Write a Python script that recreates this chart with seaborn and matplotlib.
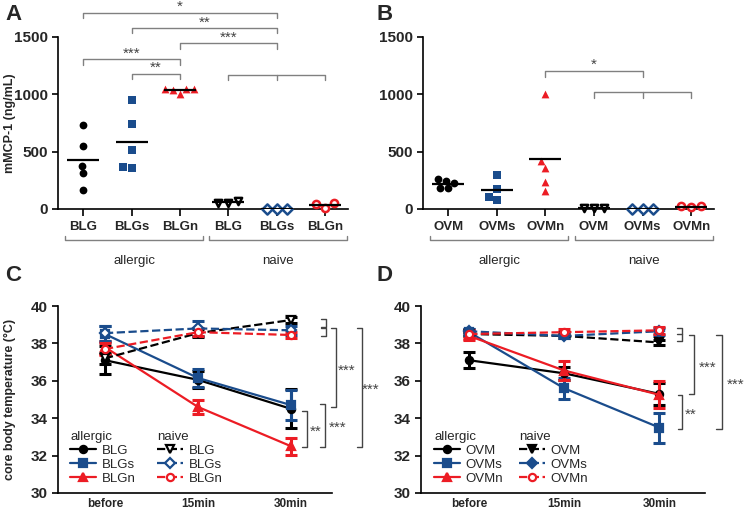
import matplotlib.pyplot as plt
import seaborn as sns
import numpy as np
from matplotlib.lines import Line2D

# ---- panel A: mMCP-1 (ng/mL), BLG groups
blg_labels = ['BLG', 'BLGs', 'BLGn', 'BLG', 'BLGs', 'BLGn']
a_blg = [732, 552, 378, 311, 166]
a_blgs = [950, 741, 514, 360, 369]
a_blgn = [1045, 1050, 1000, 1045, 1040]
n_blg = [70, 50, 55]
n_blgs = [4, 4, 4]
n_blgn = [50, 5, 45]

# ---- panel B: mMCP-1 (ng/mL), OVM groups
ovm_labels = ['OVM', 'OVMs', 'OVMn', 'OVM', 'OVMs', 'OVMn']
a_ovm = [224, 262, 180, 244, 180]
a_ovms = [296, 174, 78, 102]
a_ovmn = [1000, 419, 360, 238, 160]
n_ovm = [12, 12, 12]
n_ovms = [3, 3, 3]
n_ovmn = [22, 20, 22]

# ---- panels C/D: core body temperature, mean and SEM
times = ['before', '15min', '30min']
c_a_blg = [37.1, 36.05, 34.5]
c_a_blg_sem = [0.75, 0.45, 1.05]
c_a_blgs = [38.5, 36.15, 34.7]
c_a_blgs_sem = [0.45, 0.5, 0.8]
c_a_blgn = [37.8, 34.6, 32.5]
c_a_blgn_sem = [0.35, 0.35, 0.45]
c_n_blg = [37.2, 38.55, 39.25]
c_n_blg_sem = [0.3, 0.2, 0.15]
c_n_blgs = [38.55, 38.8, 38.7]
c_n_blgs_sem = [0.4, 0.4, 0.25]
c_n_blgn = [37.7, 38.6, 38.45]
c_n_blgn_sem = [0.3, 0.2, 0.15]

d_a_ovm = [37.1, 36.4, 35.3]
d_a_ovm_sem = [0.43, 0.35, 0.6]
d_a_ovms = [38.6, 35.6, 33.5]
d_a_ovms_sem = [0.15, 0.55, 0.8]
d_a_ovmn = [38.4, 36.55, 35.25]
d_a_ovmn_sem = [0.2, 0.5, 0.72]
d_n_ovm = [38.5, 38.4, 38.05]
d_n_ovm_sem = [0.1, 0.1, 0.15]
d_n_ovms = [38.65, 38.4, 38.65]
d_n_ovms_sem = [0.1, 0.1, 0.2]
d_n_ovmn = [38.5, 38.6, 38.7]
d_n_ovmn_sem = [0.2, 0.15, 0.2]

BLACK = '#000000'
BLUE = '#1a4c8c'
RED = '#ec1c24'
GRAY = '#808080'
DARK = '#444444'

sns.set_style('ticks')
plt.rcParams['font.family'] = ['Liberation Sans', 'DejaVu Sans']

fig = plt.figure(figsize=(7.44, 5.12), dpi=100)
axA = fig.add_axes([58 / 744, 1 - 209 / 512, 290 / 744, 172 / 512])
axB = fig.add_axes([423 / 744, 1 - 209 / 512, 291 / 744, 172 / 512])
axC = fig.add_axes([58 / 744, 1 - 493 / 512, 274 / 744, 187 / 512])
axD = fig.add_axes([421 / 744, 1 - 493 / 512, 284 / 744, 187 / 512])


def style_axis(ax):
    sns.despine(ax=ax)
    for s in ['left', 'bottom']:
        ax.spines[s].set_linewidth(1.2)
        ax.spines[s].set_color('black')
    ax.tick_params(width=1.2, length=4, color='black')


def draw_dots(ax, groups, labels):
    order = [str(i) for i in range(len(groups))]
    for i, (vals, color, marker, filled) in enumerate(groups):
        x = [str(i)] * len(vals)
        if filled:
            sns.swarmplot(x=x, y=vals, order=order, color=color, marker=marker,
                          size=5.6, linewidth=0, ax=ax, clip_on=False, zorder=4)
        else:
            sns.swarmplot(x=x, y=vals, order=order, color='white', edgecolor=color,
                          marker=marker, size=5.2, linewidth=1.8, ax=ax,
                          clip_on=False, zorder=4)
        ax.hlines(np.mean(vals), i - 0.33, i + 0.33, color='black', lw=1.6, zorder=5)
    ax.set_xlim(-0.52, 5.47)
    ax.set_ylim(0, 1500)
    ax.set_yticks([0, 500, 1000, 1500])
    ax.set_xticks(range(6))
    ax.set_xticklabels(labels, fontsize=9.5, fontweight='bold')
    ax.set_xlabel('')
    for t in ax.get_yticklabels():
        t.set_fontsize(11)
        t.set_fontweight('bold')
    style_axis(ax)
    ax.tick_params(axis='x', length=5)
    # group brackets under the axis
    tr = ax.get_xaxis_transform()
    for x1, x2, name in [(-0.37, 2.47, 'allergic'), (2.6, 5.45, 'naive')]:
        ax.plot([x1, x1, x2, x2], [-0.155, -0.18, -0.18, -0.155], color=GRAY,
                lw=1, transform=tr, clip_on=False)
        ax.text((x1 + x2) / 2, -0.305, name, transform=tr, ha='center',
                va='center', fontsize=9.5)


def hbracket(ax, x1, x2, y, h, label, mid=None):
    ax.plot([x1, x1, x2, x2], [y - h, y, y, y - h], color=GRAY, lw=1, clip_on=False)
    if mid is not None:
        ax.plot([mid, mid], [y, y - h], color=GRAY, lw=1, clip_on=False)
    if label:
        ax.text((x1 + x2) / 2, y - 10, label, ha='center', va='bottom',
                fontsize=11, color=DARK)


def vbracket(ax, x, y1, y2, w, label=None, lx=None, mid=None):
    ax.plot([x - w, x, x, x - w], [y1, y1, y2, y2], color=DARK, lw=1, clip_on=False)
    if mid is not None:
        ax.plot([x - w, x], [mid, mid], color=DARK, lw=1, clip_on=False)
    if label:
        ax.text(lx, (y1 + y2) / 2 - 0.15, label, ha='center', va='center',
                fontsize=11, color=DARK, clip_on=False)


def draw_course(ax, series):
    x = [0, 1, 2]
    for means, sems, color, marker, dashed, filled in series:
        ax.errorbar(x, means, yerr=sems, fmt='none', ecolor=color,
                    elinewidth=2.2, capsize=4, capthick=2.2, zorder=3)
        sns.lineplot(x=x, y=means, color=color, marker=marker, errorbar=None,
                     linestyle='--' if dashed else '-', lw=1.6, ms=5.2,
                     mec=color, mfc=color if filled else 'white', mew=1.6,
                     ax=ax, zorder=4)
    ax.set_ylim(30, 40)
    ax.set_yticks([30, 32, 34, 36, 38, 40])
    ax.set_xticks(x)
    ax.set_xticklabels(times, fontsize=8.5, fontweight='bold')
    for t in ax.get_yticklabels():
        t.set_fontsize(11)
        t.set_fontweight('bold')
    style_axis(ax)
    ax.tick_params(axis='x', length=0)
    handles = []
    for means, sems, color, marker, dashed, filled in series:
        handles.append(Line2D([], [], color=color, marker=marker,
                              linestyle='--' if dashed else '-', lw=1.6, ms=5.2,
                              mec=color, mfc=color if filled else 'white', mew=1.6))
    return handles


def course_legend(ax, handles, names, x1, x2):
    leg_kw = dict(frameon=False, fontsize=9.5, title_fontsize=9.5, loc='upper left',
                  borderaxespad=0, borderpad=0, handlelength=2.0,
                  handletextpad=0.4, labelspacing=0.12, alignment='left')
    l1 = ax.legend(handles[:3], names, title='allergic', bbox_to_anchor=(x1, 0.33), **leg_kw)
    ax.add_artist(l1)
    ax.legend(handles[3:], names, title='naive', bbox_to_anchor=(x2, 0.33), **leg_kw)


# ---- A
draw_dots(axA, [(a_blg, BLACK, 'o', True), (a_blgs, BLUE, 's', True),
                (a_blgn, RED, '^', True), (n_blg, BLACK, 'v', False),
                (n_blgs, BLUE, 'D', False), (n_blgn, RED, 'o', False)], blg_labels)
axA.set_ylabel('mMCP-1 (ng/mL)', fontsize=9, fontweight='bold')
axA.yaxis.set_label_coords(-0.145, 0.5)
hbracket(axA, 0, 4, 1712, 50, '*')
hbracket(axA, 1, 4, 1576, 45, '**')
hbracket(axA, 2, 4, 1445, 53, '***')
hbracket(axA, 0, 2, 1305, 50, '***')
hbracket(axA, 1, 2, 1177, 46, '**')
hbracket(axA, 3, 5, 1166, 41, None, mid=4)

# ---- B
draw_dots(axB, [(a_ovm, BLACK, 'o', True), (a_ovms, BLUE, 's', True),
                (a_ovmn, RED, '^', True), (n_ovm, BLACK, 'v', False),
                (n_ovms, BLUE, 'D', False), (n_ovmn, RED, 'o', False)], ovm_labels)
axB.set_ylabel('')
hbracket(axB, 2, 4, 1206, 52, '*')
hbracket(axB, 3, 5, 1023, 58, None, mid=4)

# ---- C
hC = draw_course(axC, [
    (c_a_blg, c_a_blg_sem, BLACK, 'o', False, True),
    (c_a_blgs, c_a_blgs_sem, BLUE, 's', False, True),
    (c_a_blgn, c_a_blgn_sem, RED, '^', False, True),
    (c_n_blg, c_n_blg_sem, BLACK, 'v', True, False),
    (c_n_blgs, c_n_blgs_sem, BLUE, 'D', True, False),
    (c_n_blgn, c_n_blgn_sem, RED, 'o', True, False)])
axC.set_xlim(-0.505, 2.44)
axC.set_ylabel('core body temperature (°C)', fontsize=9, fontweight='bold')
axC.yaxis.set_label_coords(-0.153, 0.5)
course_legend(axC, hC, ['BLG', 'BLGs', 'BLGn'], 0.044, 0.361)
vbracket(axC, 2.373, 39.30, 38.89, 0.05)
vbracket(axC, 2.373, 38.81, 38.41, 0.05)
vbracket(axC, 2.48, 38.81, 34.61, 0.05, '***', 2.6)
vbracket(axC, 2.366, 34.76, 32.48, 0.05, '***', 2.505)
vbracket(axC, 2.169, 34.39, 32.48, 0.05, '**', 2.269)
vbracket(axC, 2.76, 38.81, 32.48, 0.05, '***', 2.86)

# ---- D
hD = draw_course(axD, [
    (d_a_ovm, d_a_ovm_sem, BLACK, 'o', False, True),
    (d_a_ovms, d_a_ovms_sem, BLUE, 's', False, True),
    (d_a_ovmn, d_a_ovmn_sem, RED, '^', False, True),
    (d_n_ovm, d_n_ovm_sem, BLACK, 'v', True, True),
    (d_n_ovms, d_n_ovms_sem, BLUE, 'D', True, True),
    (d_n_ovmn, d_n_ovmn_sem, RED, 'o', True, False)])
axD.set_xlim(-0.505, 2.48)
axD.set_ylabel('')
course_legend(axD, hD, ['OVM', 'OVMs', 'OVMn'], 0.046, 0.345)
vbracket(axD, 2.242, 38.82, 38.13, 0.053, mid=38.48)
vbracket(axD, 2.368, 38.45, 35.28, 0.06, '***', 2.505)
vbracket(axD, 2.242, 35.24, 33.43, 0.05, '**', 2.33)
vbracket(axD, 2.658, 38.45, 33.43, 0.06, '***', 2.8)

# ---- panel letters
for x, y, letter in [(5, 4, 'A'), (376, 4, 'B'), (5, 265, 'C'), (376, 265, 'D')]:
    fig.text(x / 744, 1 - y / 512, letter, fontsize=16, fontweight='bold', va='top', ha='left')

fig.savefig('out.png', dpi=100)
